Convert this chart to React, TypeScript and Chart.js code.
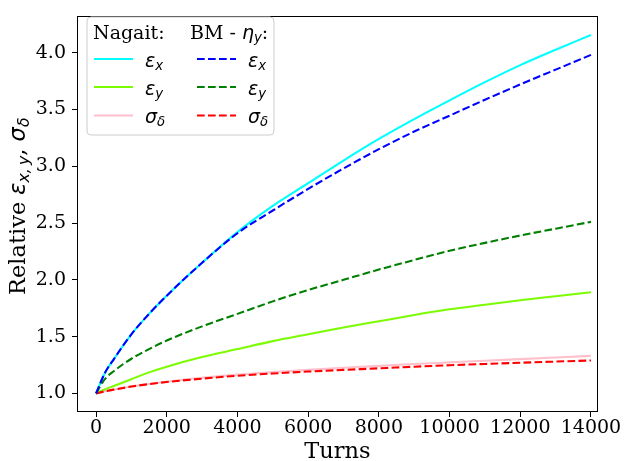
import React, { useEffect, useRef } from "react";
import { Chart, registerables } from "chart.js";
Chart.register(...registerables);

// ---- data ----
const turns = [0, 250, 500, 1000, 1500, 2000, 3000, 4000, 5000, 6000, 7000, 8000, 9000, 10000, 11000, 12000, 13000, 14000];
const nagaitEx = [1.0, 1.18, 1.3, 1.52, 1.7, 1.86, 2.15, 2.42, 2.65, 2.85, 3.05, 3.24, 3.415, 3.58, 3.74, 3.89, 4.025, 4.155];
const nagaitEy = [1.0, 1.035, 1.065, 1.125, 1.185, 1.235, 1.32, 1.39, 1.46, 1.52, 1.58, 1.635, 1.69, 1.74, 1.78, 1.82, 1.855, 1.89];
const nagaitSd = [1.0, 1.018, 1.033, 1.06, 1.083, 1.103, 1.137, 1.165, 1.187, 1.207, 1.225, 1.242, 1.258, 1.273, 1.288, 1.302, 1.316, 1.33];
const bmEx = [1.0, 1.18, 1.3, 1.52, 1.7, 1.86, 2.15, 2.41, 2.61, 2.8, 2.98, 3.15, 3.305, 3.445, 3.585, 3.72, 3.85, 3.98];
const bmEy = [1.0, 1.125, 1.195, 1.305, 1.39, 1.465, 1.59, 1.7, 1.81, 1.91, 2.0, 2.09, 2.175, 2.255, 2.325, 2.39, 2.45, 2.51];
const bmSd = [1.0, 1.018, 1.033, 1.06, 1.082, 1.1, 1.13, 1.155, 1.175, 1.192, 1.207, 1.221, 1.235, 1.248, 1.259, 1.27, 1.28, 1.29];
const xTicks = [0, 2000, 4000, 6000, 8000, 10000, 12000, 14000];
const yTicks = [1.0, 1.5, 2.0, 2.5, 3.0, 3.5, 4.0];

const SERIF = "'DejaVu Serif', serif";
const SANS = "'DejaVu Sans', sans-serif";

type Seg = { t: string; f: string; dy?: number };

function segsWidth(ctx: CanvasRenderingContext2D, segs: Seg[]) {
  let w = 0;
  for (const s of segs) {
    ctx.font = s.f;
    w += ctx.measureText(s.t).width;
  }
  return w;
}
function drawSegs(ctx: CanvasRenderingContext2D, segs: Seg[], x: number, y: number) {
  let cx = x;
  for (const s of segs) {
    ctx.font = s.f;
    ctx.fillText(s.t, cx, y + (s.dy || 0));
    cx += ctx.measureText(s.t).width;
  }
}

const mathSym = (sym: string, sub: string, size: number): Seg[] => [
  { t: sym, f: `italic ${size}px ${SANS}` },
  { t: sub, f: `italic ${size * 0.7}px ${SANS}`, dy: size * 0.16 },
];

const decorPlugin = {
  id: "decor",
  afterDatasetsDraw(chart: any) {
    const { ctx, chartArea: a } = chart;
    ctx.save();
    ctx.strokeStyle = "#000";
    ctx.lineWidth = 1;
    ctx.strokeRect(Math.round(a.left) - 0.5, Math.round(a.top) - 0.5, Math.round(a.right - a.left) + 1, Math.round(a.bottom - a.top) + 1);
    ctx.restore();
  },
  afterDraw(chart: any) {
    const { ctx, chartArea: a } = chart;
    ctx.save();
    ctx.fillStyle = "#000";
    ctx.textBaseline = "alphabetic";

    // x title
    ctx.font = `22.5px ${SERIF}`;
    ctx.textAlign = "center";
    ctx.fillText("Turns", (a.left + a.right) / 2, 458);
    ctx.textAlign = "left";

    // y title
    const ys = 22.5;
    const ySegs: Seg[] = [
      { t: "Relative ", f: `${ys}px ${SERIF}` },
      ...mathSym("ε", "x,\u2009y", ys),
      { t: ", ", f: `${ys}px ${SERIF}` },
      ...mathSym("σ", "δ", ys),
    ];
    const yw = segsWidth(ctx, ySegs);
    ctx.save();
    ctx.translate(25, (a.top + a.bottom) / 2 - 8);
    ctx.rotate(-Math.PI / 2);
    drawSegs(ctx, ySegs, -yw / 2, 0);
    ctx.restore();

    // legend
    const L = 87, T = 17, R = 274, B = 135, rad = 4;
    ctx.beginPath();
    ctx.moveTo(L + rad, T);
    ctx.arcTo(R, T, R, B, rad);
    ctx.arcTo(R, B, L, B, rad);
    ctx.arcTo(L, B, L, T, rad);
    ctx.arcTo(L, T, R, T, rad);
    ctx.closePath();
    ctx.fillStyle = "rgba(255,255,255,0.8)";
    ctx.fill();
    ctx.strokeStyle = "#cccccc";
    ctx.lineWidth = 1;
    ctx.stroke();

    const fs = 19;
    ctx.fillStyle = "#000";
    drawSegs(ctx, [{ t: "Nagait:", f: `${fs}px ${SERIF}` }], 93, 39);
    drawSegs(
      ctx,
      [{ t: "BM - ", f: `${fs}px ${SERIF}` }, ...mathSym("η", "y", fs), { t: ":", f: `${fs}px ${SERIF}` }],
      190,
      39
    );

    const ds = chart.data.datasets;
    const rows = [
      { sym: "ε", sub: "x", hy: 59, by: 66.5 },
      { sym: "ε", sub: "y", hy: 87, by: 94.5 },
      { sym: "σ", sub: "δ", hy: 115.5, by: 122.5 },
    ];
    const cols = [
      { hx: 94, lx: 145, dsOffset: 3 },
      { hx: 197, lx: 248, dsOffset: 0 },
    ];
    cols.forEach((c) => {
      rows.forEach((r, i) => {
        const d = ds[c.dsOffset + i];
        ctx.save();
        ctx.strokeStyle = d.borderColor;
        ctx.lineWidth = d.borderWidth;
        ctx.setLineDash(d.borderDash || []);
        ctx.beginPath();
        ctx.moveTo(c.hx, r.hy);
        ctx.lineTo(c.hx + 39, r.hy);
        ctx.stroke();
        ctx.restore();
        ctx.fillStyle = "#000";
        drawSegs(ctx, mathSym(r.sym, r.sub, fs), c.lx, r.by);
      });
    });
    ctx.restore();
  },
};

const pts = (ys: number[]) => ys.map((y, i) => ({ x: turns[i], y }));

export default function App() {
  const ref = useRef<HTMLCanvasElement | null>(null);
  useEffect(() => {
    if (!ref.current) return;
    const lw = 2.08;
    const dash = [7.7, 3.3];
    const mk = (label: string, data: number[], color: string, dashed: boolean) => ({
      label,
      data: pts(data),
      borderColor: color,
      backgroundColor: color,
      borderWidth: lw,
      borderDash: dashed ? dash : [],
      pointRadius: 0,
      fill: false,
      cubicInterpolationMode: "monotone" as const,
    });
    const chart = new Chart(ref.current, {
      type: "line",
      data: {
        datasets: [
          mk("BM εx", bmEx, "#0000ff", true),
          mk("BM εy", bmEy, "#008000", true),
          mk("BM σδ", bmSd, "#ff0000", true),
          mk("Nagait εx", nagaitEx, "#00ffff", false),
          mk("Nagait εy", nagaitEy, "#7cfc00", false),
          mk("Nagait σδ", nagaitSd, "#ffc0cb", false),
        ],
      },
      options: {
        animation: false,
        responsive: false,
        devicePixelRatio: 1,
        layout: { padding: { top: 8, right: 29, left: 0, bottom: 0 } },
        plugins: { legend: { display: false }, tooltip: { enabled: false } },
        scales: {
          x: {
            type: "linear",
            min: -510,
            max: 14170,
            afterBuildTicks: (s: any) => {
              s.ticks = xTicks.map((v) => ({ value: v }));
            },
            afterFit: (s: any) => {
              s.height = 50;
            },
            grid: { drawOnChartArea: false, drawTicks: true, tickLength: 6, color: "#000" },
            border: { display: false },
            ticks: {
              font: { family: SERIF, size: 19 },
              color: "#000",
              padding: 0,
              maxRotation: 0,
              autoSkip: false,
              callback: (v: any) => String(v),
            },
          },
          y: {
            type: "linear",
            min: 0.845,
            max: 4.31,
            afterBuildTicks: (s: any) => {
              s.ticks = yTicks.map((v) => ({ value: v }));
            },
            afterFit: (s: any) => {
              s.width = 78;
            },
            grid: { drawOnChartArea: false, drawTicks: true, tickLength: 6, color: "#000" },
            border: { display: false },
            ticks: {
              font: { family: SERIF, size: 19 },
              color: "#000",
              padding: 6,
              autoSkip: false,
              callback: (v: any) => Number(v).toFixed(1),
            },
          },
        },
      },
      plugins: [decorPlugin],
    });
    return () => chart.destroy();
  }, []);
  return (
    <div style={{ position: "fixed", left: 0, top: 0, width: 626, height: 461, background: "#fff" }}>
      <canvas ref={ref} width={626} height={461} style={{ width: 626, height: 461, display: "block" }} />
    </div>
  );
}
